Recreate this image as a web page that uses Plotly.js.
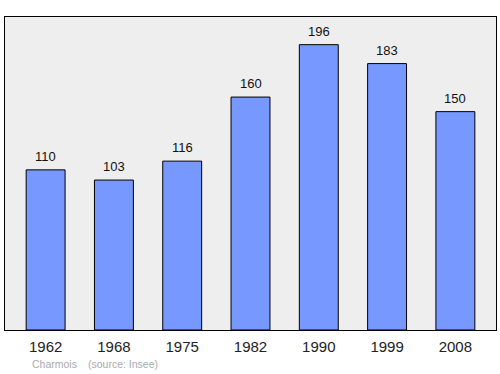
<!DOCTYPE html>
<html>
<head>
<meta charset="utf-8">
<script src="https://cdn.plot.ly/plotly-3.0.1.min.js"></script>
<style>html,body{margin:0;padding:0;background:#fff;}#chart{width:500px;height:374px;}</style>
</head>
<body>
<div id="chart"></div>
<script>
const years = ["1962", "1968", "1975", "1982", "1990", "1999", "2008"];
const population = [110, 103, 116, 160, 196, 183, 150];
const commune = "Charmois";
const sourceText = "(source: Insee)";

const font = "Liberation Sans, Arial, sans-serif";

const trace = {
  type: "bar",
  x: years.map((_, i) => i),
  y: population,
  width: 0.57,
  marker: {color: "#7799ff", line: {color: "#000000", width: 1}},
  hoverinfo: "skip"
};

const annotations = years.map((yr, i) => ({
  x: i, y: population[i], xref: "x", yref: "y",
  text: String(population[i]), showarrow: false,
  yanchor: "bottom", yshift: 4,
  font: {family: font, size: 13, color: "#111"}
}));
annotations.push({
  xref: "paper", yref: "paper", x: 25/491, y: -0.11,
  xanchor: "left", yanchor: "middle", showarrow: false,
  text: commune, font: {family: font, size: 10.5, color: "#aaaaaa"}
});
annotations.push({
  xref: "paper", yref: "paper", x: 81/491, y: -0.11,
  xanchor: "left", yanchor: "middle", showarrow: false,
  text: sourceText, font: {family: font, size: 10.5, color: "#aaaaaa"}
});

const layout = {
  width: 500, height: 374,
  margin: {l: 5, r: 4, t: 17, b: 44, pad: 0},
  paper_bgcolor: "#ffffff",
  plot_bgcolor: "#eeeeee",
  showlegend: false,
  xaxis: {
    type: "linear",
    range: [-0.595, 6.595],
    tickmode: "array",
    tickvals: years.map((_, i) => i),
    ticktext: years,
    showline: true, mirror: true, linecolor: "#000", linewidth: 1,
    ticks: "", showgrid: false, zeroline: false,
    ticklabelstandoff: 3,
    tickfont: {family: font, size: 15, color: "#222"},
    fixedrange: true
  },
  yaxis: {
    range: [0, 215],
    showline: true, mirror: true, linecolor: "#000", linewidth: 1,
    showticklabels: false, ticks: "", showgrid: false, zeroline: false,
    fixedrange: true
  },
  annotations: annotations
};

Plotly.newPlot("chart", [trace], layout, {displayModeBar: false, staticPlot: true});
</script>
</body>
</html>
